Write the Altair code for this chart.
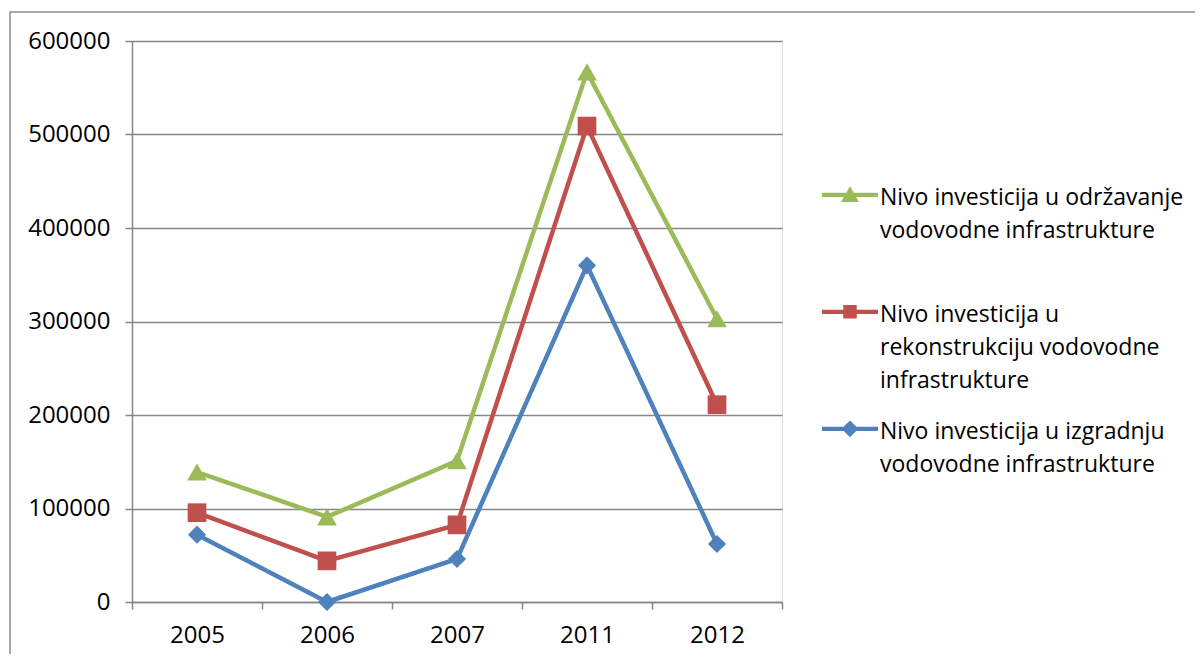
import altair as alt
import pandas as pd

years = ["2005", "2006", "2007", "2011", "2012"]
series_names = [
    "Nivo investicija u održavanje|vodovodne infrastrukture|",
    "Nivo investicija u|rekonstrukciju vodovodne|infrastrukture",
    "Nivo investicija u izgradnju|vodovodne infrastrukture|",
]
odrzavanje = [139000, 91000, 151000, 567000, 303000]
rekonstrukcija = [95500, 44000, 82500, 509000, 211000]
izgradnja = [72000, 0, 46000, 360000, 62000]
colors = ["#9BBB59", "#C0504D", "#4F81BD"]
shapes = ["triangle-up", "square", "diamond"]
marker_sizes = [390, 350, 330]
y_ticks = [0, 100000, 200000, 300000, 400000, 500000, 600000]

rows = []
for name, vals in zip(series_names, [odrzavanje, rekonstrukcija, izgradnja]):
    for y, v in zip(years, vals):
        rows.append({"year": y, "series": name, "value": v})
df = pd.DataFrame(rows)

# legend symbol: line segment + marker, drawn slightly below centre so it lines up
# with the first label line
dy = 0.28
def shift(pts):
    return "M" + "L".join(f"{x:.3f},{y + dy:.3f}" for x, y in pts) + "Z"
line_rect = shift([(-1, -0.075), (1, -0.075), (1, 0.075), (-1, 0.075)])
legend_paths = [
    line_rect + shift([(0, -0.32), (0.32, 0.26), (-0.32, 0.26)]),
    line_rect + shift([(-0.24, -0.24), (0.24, -0.24), (0.24, 0.24), (-0.24, 0.24)]),
    line_rect + shift([(0, -0.3), (0.3, 0), (0, 0.3), (-0.3, 0)]),
]

FONT = "Open Sans"
FS = 24
LFS = 23

x_enc = alt.X("year:N", sort=years, scale=alt.Scale(paddingInner=0, paddingOuter=0),
              axis=alt.Axis(title=None, labelAngle=0, tickBand="extent", tickSize=7,
                            labelPadding=14, labelFontSize=FS, labelFont=FONT,
                            labelColor="#000000", domainColor="#868686", tickColor="#868686",
                            domainWidth=1.5, tickWidth=1.5, grid=False))
y_enc = alt.Y("value:Q", scale=alt.Scale(domain=[0, 600000], nice=False),
              axis=alt.Axis(title=None, values=y_ticks, format="d", tickSize=7,
                            labelPadding=15, labelFontSize=FS, labelFont=FONT,
                            labelColor="#000000", domainColor="#868686", tickColor="#868686",
                            domainWidth=1.5, tickWidth=1.5,
                            gridColor="#868686", gridWidth=1.5))

legend = alt.Legend(title=None, orient="none", legendX=690, legendY=118,
                    symbolSize=3136, symbolOpacity=1, symbolStrokeWidth=0,
                    labelFont=FONT, labelFontSize=LFS, labelColor="#000000",
                    labelExpr="split(datum.label, '|')", labelLimit=400,
                    labelBaseline="top", labelOffset=2, rowPadding=-20)
color_enc = alt.Color("series:N", scale=alt.Scale(domain=series_names, range=colors),
                      legend=legend)

base = alt.Chart(df)

border = alt.Chart(pd.DataFrame({"a": [0]})).mark_rect(
    fill=None, stroke="#8c8c8c", strokeWidth=1.5, clip=False
).encode(x=alt.value(-122), x2=alt.value(1200), y=alt.value(-29), y2=alt.value(700))

lines = base.mark_line(strokeWidth=4.5).encode(x=x_enc, y=y_enc, color=color_enc)

point_layers = []
for name, shp, sz in zip(series_names, shapes, marker_sizes):
    point_layers.append(
        base.transform_filter(alt.datum.series == name)
        .mark_point(filled=True, size=sz, opacity=1, shape=shp)
        .encode(x=x_enc, y=y_enc, color=color_enc)
    )

legend_layer = base.mark_point(filled=True, opacity=0).encode(
    x=x_enc, y=y_enc, color=color_enc,
    shape=alt.Shape("series:N", scale=alt.Scale(domain=series_names, range=legend_paths),
                    legend=legend),
)

chart = alt.layer(border, lines, *point_layers, legend_layer).properties(
    width=650, height=561,
    autosize=alt.AutoSizeParams(type="none"),
    padding={"left": 124, "top": 33, "right": 413, "bottom": 52},
).configure_view(stroke=None).configure(
    background="white",
    style={"guide-label": {"lineHeight": 33}},
)

chart.save("out.html", embed_options={"renderer": "svg", "actions": False})
